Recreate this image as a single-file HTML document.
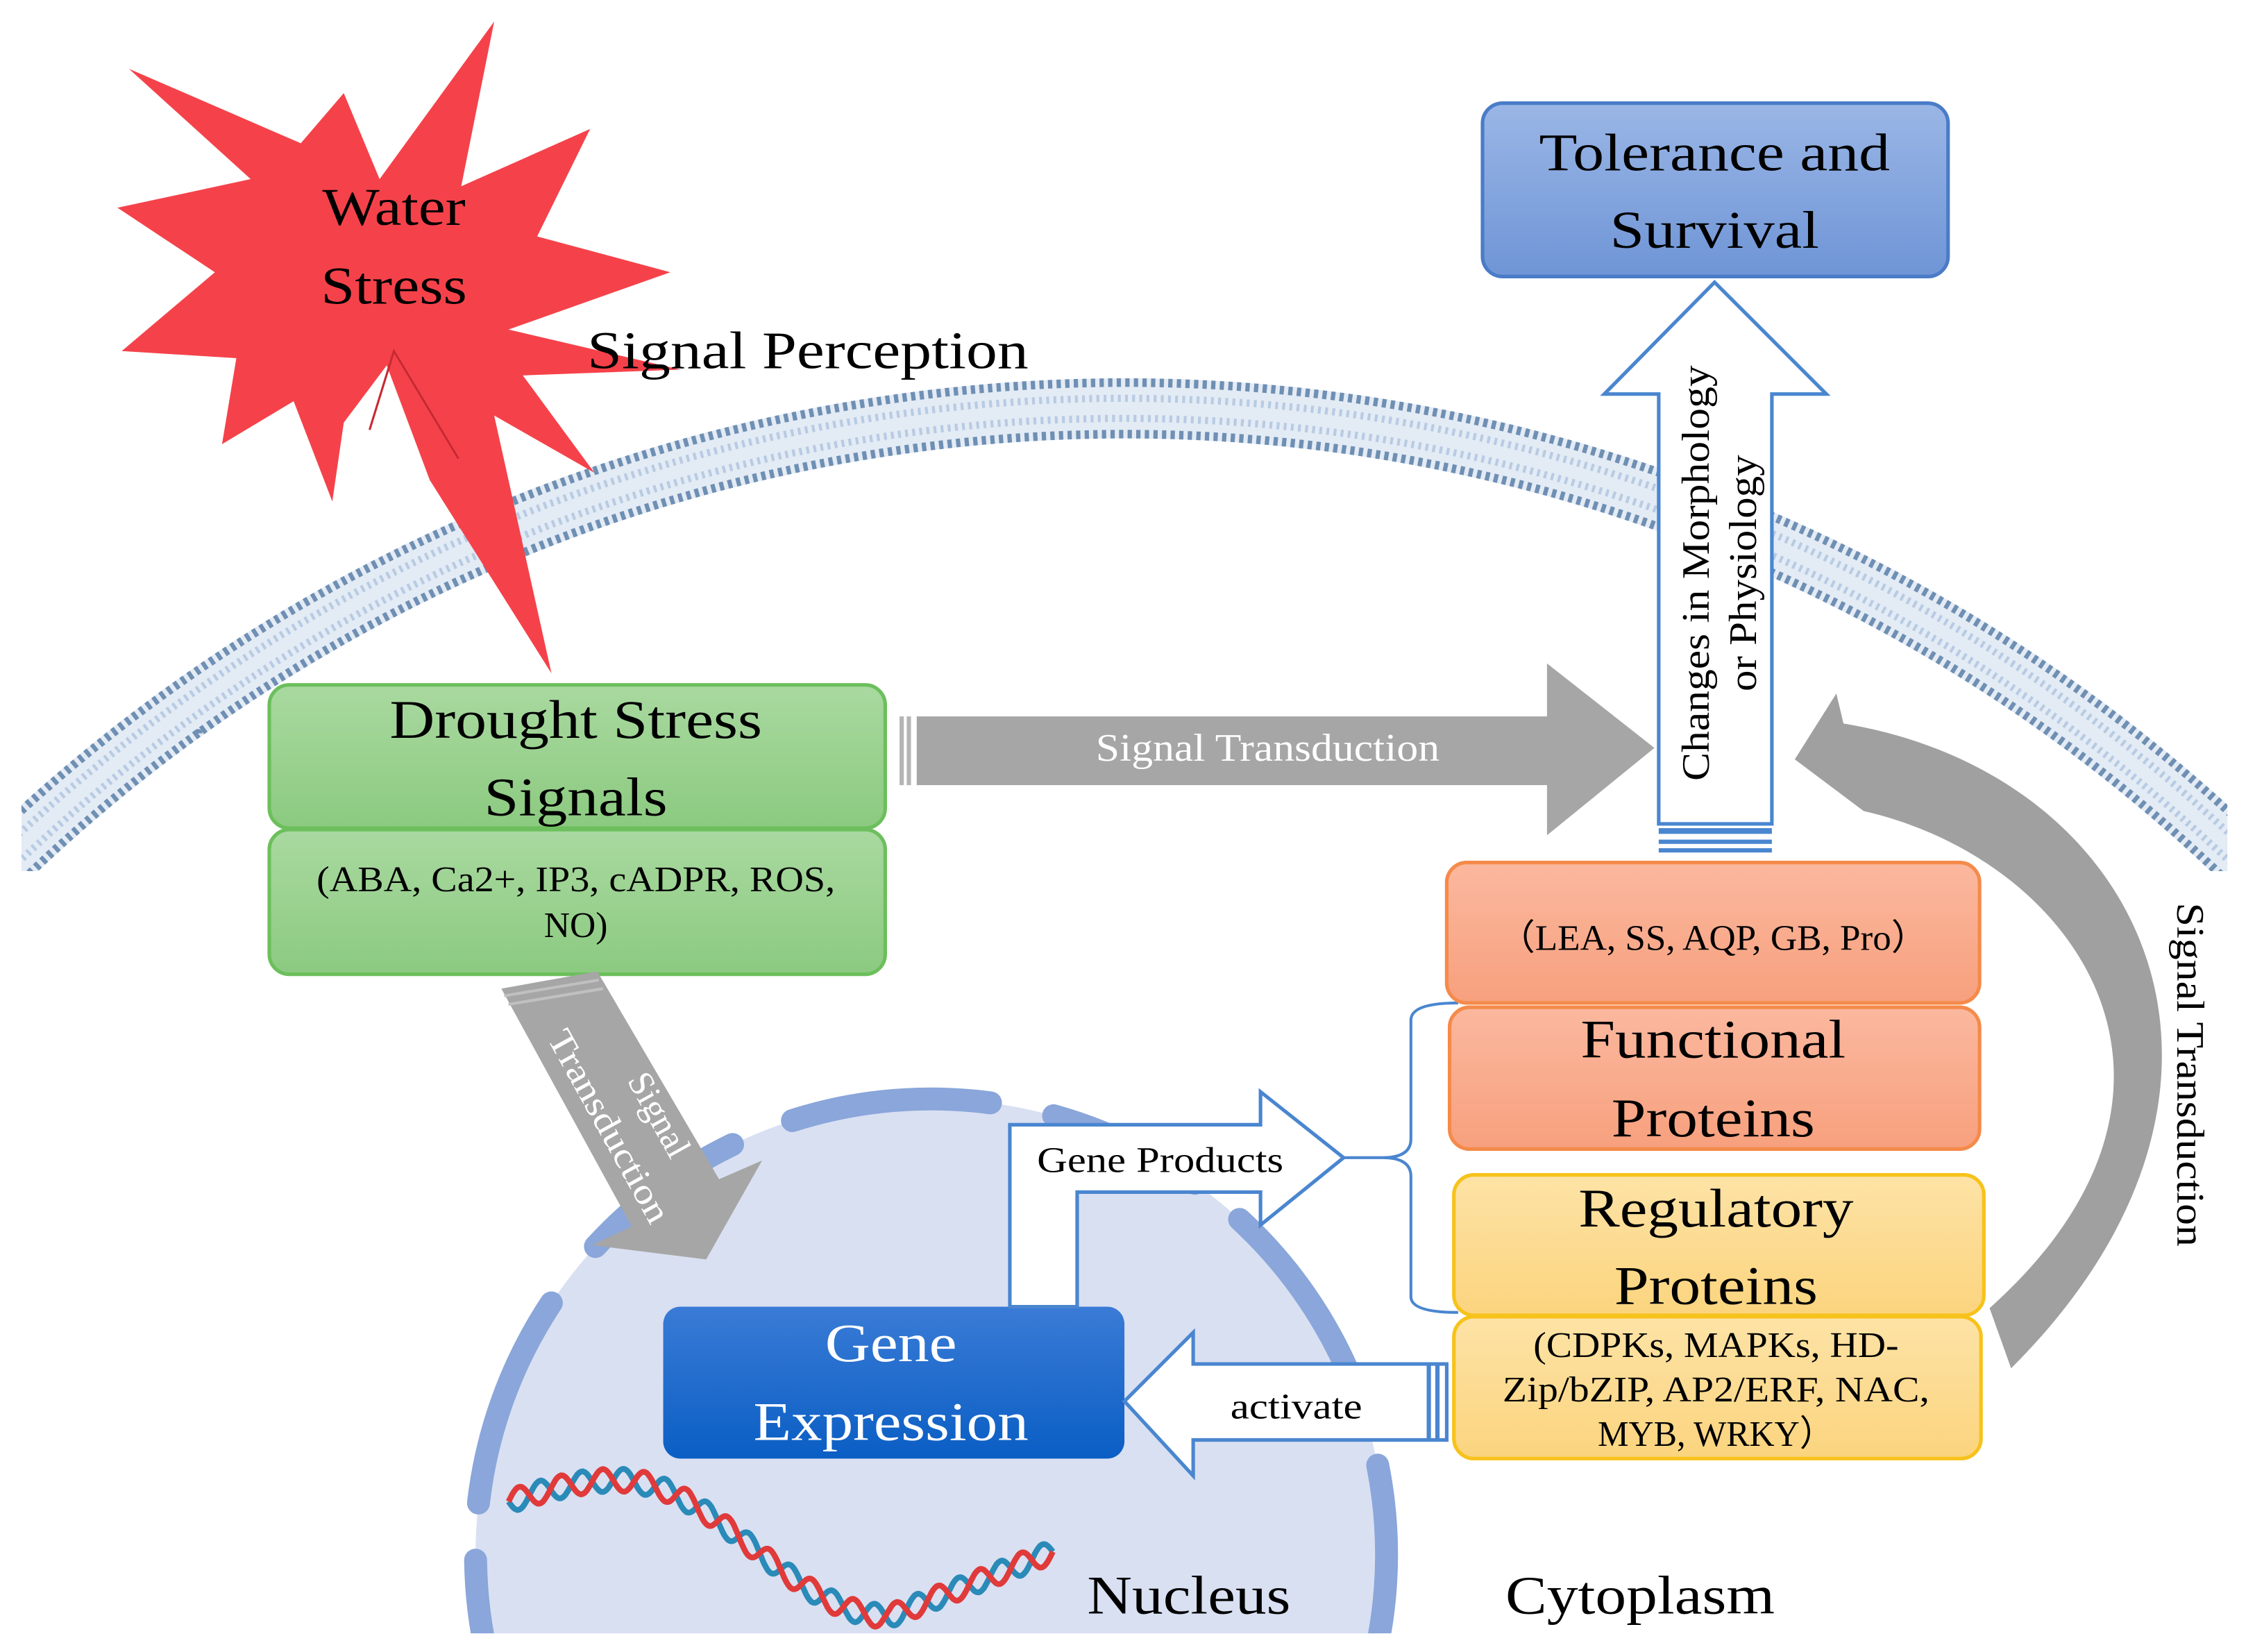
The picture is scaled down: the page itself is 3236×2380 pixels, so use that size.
<!DOCTYPE html>
<html><head><meta charset="utf-8"><style>
html,body{margin:0;padding:0;background:#fff;width:3236px;height:2380px;overflow:hidden;}
svg{display:block;}
text{font-family:"Liberation Serif",serif;}
</style></head><body>
<svg width="3236" height="2380" viewBox="0 0 1568 1153" preserveAspectRatio="none" xmlns="http://www.w3.org/2000/svg">
<defs>
<linearGradient id="gG" x1="0" y1="0" x2="0" y2="1"><stop offset="0" stop-color="#a9d9a0"/><stop offset="1" stop-color="#8cca80"/></linearGradient>
<linearGradient id="gB" x1="0" y1="0" x2="0" y2="1"><stop offset="0" stop-color="#9ab6e6"/><stop offset="1" stop-color="#6f95d6"/></linearGradient>
<linearGradient id="gD" x1="0" y1="0" x2="0" y2="1"><stop offset="0" stop-color="#3a7bd6"/><stop offset="1" stop-color="#0a5ec4"/></linearGradient>
<linearGradient id="gO" x1="0" y1="0" x2="0" y2="1"><stop offset="0" stop-color="#fbb89e"/><stop offset="1" stop-color="#f7a07e"/></linearGradient>
<linearGradient id="gY" x1="0" y1="0" x2="0" y2="1"><stop offset="0" stop-color="#fde3a6"/><stop offset="1" stop-color="#fbd47e"/></linearGradient>
<clipPath id="cl"><rect x="0" y="0" width="1568" height="1140"/></clipPath>
<clipPath id="cm"><rect x="15" y="0" width="1540" height="608"/></clipPath>
</defs>

<g fill="none" clip-path="url(#cm)">
<circle cx="785" cy="1409" r="1124" stroke="#e3ebf5" stroke-width="42"/>
<circle cx="785" cy="1409" r="1142" stroke="#6f8fb3" stroke-width="6" stroke-dasharray="3 3"/>
<circle cx="785" cy="1409" r="1106" stroke="#6f8fb3" stroke-width="6" stroke-dasharray="3 3"/>
<circle cx="785" cy="1409" r="1131" stroke="#b8cbe3" stroke-width="5" stroke-dasharray="2 3"/>
<circle cx="785" cy="1409" r="1117" stroke="#b8cbe3" stroke-width="5" stroke-dasharray="2 3"/>
</g>

<g clip-path="url(#cl)">
<circle cx="650" cy="1085" r="318" fill="#d9e0f2"/>
<circle cx="650" cy="1085" r="318" fill="none" stroke="#8aa6da" stroke-width="16" stroke-linecap="round" stroke-dasharray="140 45 110 40 150 50 120 45"/>
</g>

<path id="dna1" d="" fill="none" stroke="#2a8ab8" stroke-width="4"/>
<path id="dna2" d="" fill="none" stroke="#e03a3a" stroke-width="4"/>

<polygon points="345,15 322,130 412,90 375,165 468,190 355,230 475,258 365,262 415,330 345,290 385,470 300,335 270,255 240,295 232,350 205,280 155,310 165,250 85,245 150,190 82,145 175,125 90,48 210,100 240,65 265,125" fill="#f5424a"/>
<polyline points="320,320 275,245 258,300" fill="none" stroke="#c82a32" stroke-width="1.5"/>
<text x="275" y="157" font-size="37" text-anchor="middle" textLength="100" lengthAdjust="spacingAndGlyphs">Water</text>
<text x="275" y="212" font-size="37" text-anchor="middle" textLength="102" lengthAdjust="spacingAndGlyphs">Stress</text>
<text x="410" y="257" font-size="37" textLength="308" lengthAdjust="spacingAndGlyphs">Signal Perception</text>

<rect x="1035" y="72" width="325" height="121" rx="14" fill="url(#gB)" stroke="#4a7cc8" stroke-width="2.5"/>
<text x="1197" y="119" font-size="37" text-anchor="middle" textLength="245" lengthAdjust="spacingAndGlyphs">Tolerance and</text>
<text x="1197" y="173" font-size="37" text-anchor="middle" textLength="146" lengthAdjust="spacingAndGlyphs">Survival</text>

<polygon points="1197,197 1275,275 1237,275 1237,575 1158,575 1158,275 1120,275" fill="#fff" stroke="#4a86d0" stroke-width="2.5"/>
<rect x="1158" y="578" width="79" height="4" fill="#4a86d0"/>
<rect x="1158" y="586" width="79" height="3" fill="#4a86d0"/>
<rect x="1158" y="592" width="79" height="3" fill="#4a86d0"/>
<text transform="translate(1193,400) rotate(-90)" font-size="27" text-anchor="middle" textLength="290" lengthAdjust="spacingAndGlyphs">Changes in Morphology</text>
<text transform="translate(1226,400) rotate(-90)" font-size="27" text-anchor="middle" textLength="165" lengthAdjust="spacingAndGlyphs">or Physiology</text>

<polygon points="640,500 1080,500 1080,463 1155,522 1080,583 1080,548 640,548" fill="#a6a6a6"/>
<rect x="628" y="500" width="3" height="48" fill="#b5b5b5"/>
<rect x="633" y="500" width="3" height="48" fill="#b5b5b5"/>
<text x="885" y="531" font-size="27" text-anchor="middle" fill="#fff" textLength="240" lengthAdjust="spacingAndGlyphs">Signal Transduction</text>

<rect x="188" y="478" width="430" height="100" rx="14" fill="url(#gG)" stroke="#6cbf5c" stroke-width="2.5"/>
<text x="402" y="515" font-size="38" text-anchor="middle" textLength="260" lengthAdjust="spacingAndGlyphs">Drought Stress</text>
<text x="402" y="569" font-size="38" text-anchor="middle" textLength="128" lengthAdjust="spacingAndGlyphs">Signals</text>
<rect x="188" y="579" width="430" height="101" rx="14" fill="url(#gG)" stroke="#6cbf5c" stroke-width="2.5"/>
<text x="402" y="622" font-size="25" text-anchor="middle" textLength="362" lengthAdjust="spacingAndGlyphs">(ABA, Ca2+, IP3, cADPR, ROS,</text>
<text x="402" y="654" font-size="25" text-anchor="middle">NO)</text>

<polygon points="350,690 417,678 502,823 532,810 493,879 413,869 441,856" fill="#a6a6a6"/>
<line x1="352" y1="695" x2="418" y2="684" stroke="#c0c0c0" stroke-width="2"/>
<line x1="355" y1="701" x2="421" y2="690" stroke="#c0c0c0" stroke-width="2"/>
<text transform="translate(453,782) rotate(61)" font-size="25" text-anchor="middle" fill="#fff">Signal</text>
<text transform="translate(418,790) rotate(61)" font-size="25" text-anchor="middle" fill="#fff" textLength="150" lengthAdjust="spacingAndGlyphs">Transduction</text>

<rect x="463" y="912" width="322" height="106" rx="12" fill="url(#gD)"/>
<text x="622" y="950" font-size="38" text-anchor="middle" fill="#fff" textLength="92" lengthAdjust="spacingAndGlyphs">Gene</text>
<text x="622" y="1005" font-size="38" text-anchor="middle" fill="#fff" textLength="192" lengthAdjust="spacingAndGlyphs">Expression</text>

<polygon points="705,912 705,785 880,785 880,762 938,808 880,855 880,832 752,832 752,912" fill="#fff" stroke="#4a86d0" stroke-width="2.5"/>
<text x="810" y="818" font-size="25" text-anchor="middle" textLength="172" lengthAdjust="spacingAndGlyphs">Gene Products</text>
<line x1="938" y1="808" x2="965" y2="808" stroke="#4a86d0" stroke-width="2"/>
<path d="M1018,700 Q985,700 985,712 L985,795 Q985,808 965,808 Q985,808 985,821 L985,905 Q985,916 1018,916" fill="none" stroke="#4a86d0" stroke-width="2"/>

<rect x="1010" y="602" width="372" height="98" rx="14" fill="url(#gO)" stroke="#f58a4a" stroke-width="2.5"/>
<text x="1196" y="663" font-size="25" text-anchor="middle" textLength="300" lengthAdjust="spacingAndGlyphs">（LEA, SS, AQP, GB, Pro）</text>
<rect x="1012" y="703" width="370" height="99" rx="14" fill="url(#gO)" stroke="#f58a4a" stroke-width="2.5"/>
<text x="1196" y="738" font-size="38" text-anchor="middle" textLength="185" lengthAdjust="spacingAndGlyphs">Functional</text>
<text x="1196" y="793" font-size="38" text-anchor="middle" textLength="142" lengthAdjust="spacingAndGlyphs">Proteins</text>
<rect x="1015" y="820" width="370" height="98" rx="14" fill="url(#gY)" stroke="#f7c21a" stroke-width="2.5"/>
<text x="1198" y="856" font-size="38" text-anchor="middle" textLength="192" lengthAdjust="spacingAndGlyphs">Regulatory</text>
<text x="1198" y="910" font-size="38" text-anchor="middle" textLength="142" lengthAdjust="spacingAndGlyphs">Proteins</text>
<rect x="1015" y="919" width="368" height="99" rx="14" fill="url(#gY)" stroke="#f7c21a" stroke-width="2.5"/>
<text x="1198" y="947" font-size="25" text-anchor="middle" textLength="255" lengthAdjust="spacingAndGlyphs">(CDPKs, MAPKs, HD-</text>
<text x="1198" y="978" font-size="25" text-anchor="middle" textLength="298" lengthAdjust="spacingAndGlyphs">Zip/bZIP, AP2/ERF, NAC,</text>
<text x="1198" y="1009" font-size="25" text-anchor="middle" textLength="165" lengthAdjust="spacingAndGlyphs">MYB, WRKY）</text>

<polygon points="785,978 833,930 833,952 1010,952 1010,1005 833,1005 833,1030" fill="#fff" stroke="#4a86d0" stroke-width="2.5"/>
<rect x="996" y="952" width="3" height="53" fill="#4a86d0"/>
<rect x="1002" y="952" width="3" height="53" fill="#4a86d0"/>
<text x="905" y="990" font-size="25" text-anchor="middle" textLength="92" lengthAdjust="spacingAndGlyphs">activate</text>

<path d="M1253,530 L1282,484 L1287,505 C1500,540 1600,760 1404,955 L1389,913 C1560,760 1450,600 1301,566 Z" fill="#a0a0a0"/>
<text transform="translate(1520,750) rotate(90)" font-size="27" text-anchor="middle" textLength="240" lengthAdjust="spacingAndGlyphs">Signal Transduction</text>

<text x="830" y="1126" font-size="38" text-anchor="middle" textLength="142" lengthAdjust="spacingAndGlyphs">Nucleus</text>
<text x="1145" y="1126" font-size="38" text-anchor="middle" textLength="188" lengthAdjust="spacingAndGlyphs">Cytoplasm</text>
</svg>
<script>
(function(){
 function base(t){
  var x=355+380*t;
  var y;
  if(t<0.2){y=1048-15*Math.sin(t/0.2*Math.PI/2);}
  else if(t<0.7){var u=(t-0.2)/0.5;y=1033+95*(0.5-0.5*Math.cos(u*Math.PI));}
  else {var u=(t-0.7)/0.3;y=1128-45*u;}
  return [x,y];
 }
 var a="",b="";
 for(var i=0;i<=300;i++){var t=i/300;var p=base(t);var w=8*Math.sin(t*2*Math.PI*13);
  a+=(i?"L":"M")+p[0].toFixed(1)+","+(p[1]+w).toFixed(1);
  b+=(i?"L":"M")+p[0].toFixed(1)+","+(p[1]-w).toFixed(1);}
 document.getElementById("dna1").setAttribute("d",a);
 document.getElementById("dna2").setAttribute("d",b);
})();
</script>
</body></html>
